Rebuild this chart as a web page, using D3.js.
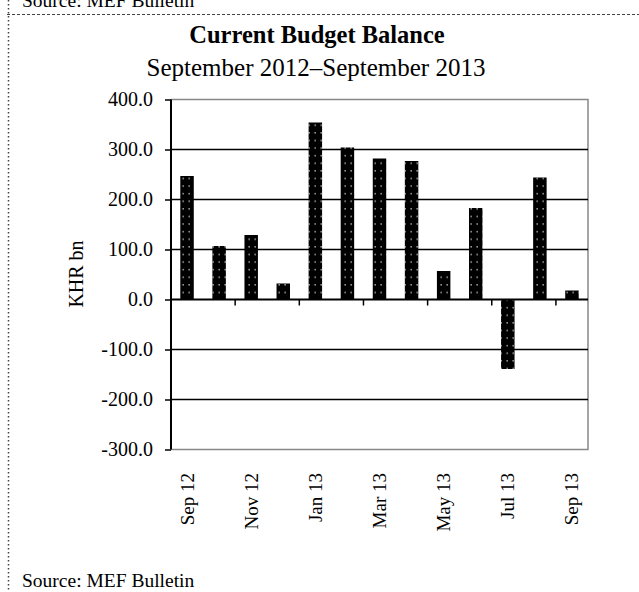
<!DOCTYPE html>
<html>
<head>
<meta charset="utf-8">
<script src="https://cdn.jsdelivr.net/npm/d3@7"></script>
<style>
  html, body { margin: 0; padding: 0; background: #fff; }
  svg { display: block; font-family: "Liberation Serif", "Times New Roman", serif; }
</style>
</head>
<body>
<svg id="chart" width="639" height="592"></svg>
<script>
// Monthly current budget balance, KHR bn
const months = ["Sep 12", "Oct 12", "Nov 12", "Dec 12", "Jan 13", "Feb 13", "Mar 13",
                "Apr 13", "May 13", "Jun 13", "Jul 13", "Aug 13", "Sep 13"];
const balance = [247, 107, 129, 32, 354, 304, 282, 277, 57, 183, -139, 244, 18];
const yTicks = [400, 300, 200, 100, 0, -100, -200, -300];
const labelledMonths = ["Sep 12", "Nov 12", "Jan 13", "Mar 13", "May 13", "Jul 13", "Sep 13"];

const svg = d3.select("#chart");
const W = 639, H = 592;
const plot = { left: 171, right: 588, top: 99.5, bottom: 449.5 };

const x = d3.scaleBand().domain(months).range([plot.left, plot.right]).paddingInner(0.58).paddingOuter(0.29);
const xSlots = d3.scaleBand().domain(months).range([plot.left, plot.right]);
const y = d3.scaleLinear().domain([-300, 400]).range([plot.bottom, plot.top]);

// Dotted fill for the bars
const defs = svg.append("defs");
const pat = defs.append("pattern").attr("id", "dots")
  .attr("patternUnits", "userSpaceOnUse").attr("width", 6).attr("height", 7.6);
pat.append("rect").attr("width", 6).attr("height", 7.6).attr("fill", "#000");
pat.append("rect").attr("x", 2.5).attr("y", 3).attr("width", 1.3).attr("height", 1.3).attr("fill", "#d8d8d8");

// Page frame: dashed rule on top, dotted rule on the left
svg.append("line").attr("x1", 7).attr("x2", W).attr("y1", 14.5).attr("y2", 14.5)
  .attr("stroke", "#444").attr("stroke-width", 1).attr("stroke-dasharray", "3,2");
svg.append("line").attr("x1", 8.5).attr("x2", 8.5).attr("y1", 0).attr("y2", H)
  .attr("stroke", "#444").attr("stroke-width", 1.5).attr("stroke-dasharray", "1.5,2.5");

svg.append("text").attr("x", 22).attr("y", 7).attr("font-size", 19.5).text("Source: MEF Bulletin");
svg.append("text").attr("x", 22).attr("y", 587).attr("font-size", 19.5).text("Source: MEF Bulletin");

// Titles
svg.append("text").attr("x", 317).attr("y", 43).attr("text-anchor", "middle")
  .attr("font-size", 24.5).attr("font-weight", "bold").text("Current Budget Balance");
svg.append("text").attr("x", 316).attr("y", 76).attr("text-anchor", "middle")
  .attr("font-size", 25).text("September 2012\u2013September 2013");

// Plot border (grey) on top, right and bottom
svg.append("path")
  .attr("d", `M${plot.left},${plot.top}H${plot.right}V${plot.bottom}H${plot.left}`)
  .attr("fill", "none").attr("stroke", "#888").attr("stroke-width", 1.5);

// Horizontal gridlines
svg.append("g").selectAll("line")
  .data(yTicks.filter(v => v !== 400 && v !== -300 && v !== 0))
  .join("line")
  .attr("x1", plot.left).attr("x2", plot.right)
  .attr("y1", d => y(d)).attr("y2", d => y(d))
  .attr("stroke", "#000").attr("stroke-width", 1.5);

// Bars
svg.append("g").selectAll("rect")
  .data(months.map((m, i) => ({ m, v: balance[i] })))
  .join("rect")
  .attr("x", d => x(d.m))
  .attr("width", x.bandwidth())
  .attr("y", d => y(Math.max(0, d.v)))
  .attr("height", d => Math.abs(y(d.v) - y(0)))
  .attr("fill", "url(#dots)");

// Y axis (plain hyphen for negatives)
const fmt = v => d3.format(".1f")(v).replace("\u2212", "-");
const yAxis = svg.append("g").attr("transform", `translate(${plot.left},0)`)
  .call(d3.axisLeft(y).tickValues(yTicks).tickSize(6).tickPadding(12).tickFormat(fmt));
yAxis.select(".domain").attr("stroke", "#000").attr("stroke-width", 2).attr("d", `M0,${plot.top}V${plot.bottom}`);
yAxis.selectAll(".tick line").attr("stroke", "#000").attr("stroke-width", 1.5);
yAxis.selectAll(".tick text").attr("font-size", 20).attr("font-family", "Liberation Serif, serif").attr("fill", "#000");

// Zero line with category ticks every second month boundary
const zeroY = y(0);
svg.append("line").attr("x1", plot.left).attr("x2", plot.right)
  .attr("y1", zeroY).attr("y2", zeroY).attr("stroke", "#000").attr("stroke-width", 2);
const boundaries = months.map((m, i) => i).filter(i => i > 0 && i % 2 === 0);
svg.append("g").selectAll("line").data(boundaries).join("line")
  .attr("x1", i => xSlots(months[i])).attr("x2", i => xSlots(months[i]))
  .attr("y1", zeroY).attr("y2", zeroY + 6)
  .attr("stroke", "#000").attr("stroke-width", 1.5);

// Month labels, rotated
svg.append("g").selectAll("text").data(labelledMonths).join("text")
  .attr("transform", d => `translate(${xSlots(d) + xSlots.bandwidth() / 2 + 6.5},473) rotate(-90)`)
  .attr("text-anchor", "end").attr("font-size", 19).text(d => d);

// Y axis title
svg.append("text")
  .attr("transform", `translate(83,274) rotate(-90)`)
  .attr("text-anchor", "middle").attr("font-size", 20).text("KHR bn");
</script>
</body>
</html>
